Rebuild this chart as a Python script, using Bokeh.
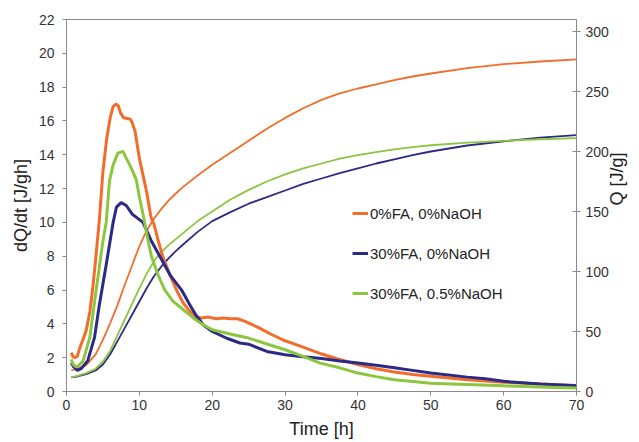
import math
from bokeh.plotting import figure
from bokeh.models import (Range1d, LinearAxis, SingleIntervalTicker, Legend, LegendItem)
from bokeh.embed import file_html
from bokeh.resources import INLINE

# ---------------- data ----------------
series_names = ["0%FA, 0%NaOH", "30%FA, 0%NaOH", "30%FA, 0.5%NaOH"]

# heat flow dQ/dt [J/gh]
t_flow_0fa = [0.65, 0.9, 1.2, 1.5, 1.8, 2.2, 2.7, 3.2, 3.6, 4.0, 4.5, 5.0, 5.5, 6.0, 6.4, 6.8,
              7.1, 7.4, 7.8, 8.3, 8.8, 9.1, 9.4, 10.0, 10.5, 11.0, 11.6, 12.0, 12.6, 13.2,
              14.2, 15.1, 16.0, 16.9, 17.8, 18.5, 19.5, 20.5, 21.5, 22.5, 23.5, 24.5, 25.5,
              26.5, 28.0, 30.0, 32.0, 34.8, 37.0, 40.0, 42.5, 45.0, 47.5, 50.0, 52.5, 55.0,
              57.5, 60.0, 62.5, 65.0, 67.5, 70.0]
flow_0fa = [2.3, 2.05, 2.0, 2.1, 2.55, 3.0, 3.6, 4.7, 6.1, 7.8, 10.1, 13.0, 14.9, 16.2, 16.85, 17.0,
            16.9, 16.5, 16.2, 16.15, 16.1, 15.8, 15.4, 13.8, 12.8, 11.8, 10.3, 9.9, 8.9, 8.0,
            6.9, 6.0, 5.25, 4.75, 4.4, 4.35, 4.4, 4.3, 4.35, 4.3, 4.3, 4.15, 3.95,
            3.75, 3.4, 3.0, 2.7, 2.25, 1.95, 1.6, 1.35, 1.15, 1.0, 0.9, 0.8, 0.7,
            0.62, 0.55, 0.5, 0.45, 0.4, 0.35]

t_flow_30fa = [0.65, 1.0, 1.5, 2.0, 2.9, 3.85, 4.5, 5.45, 6.4, 6.85, 7.5, 8.2, 9.0, 9.6, 10.5,
               11.65, 12.8, 14.2, 15.8, 16.9, 17.8, 18.75, 20.0, 22.0, 23.8, 25.0, 27.5, 30.0,
               32.5, 35.0, 37.5, 40.0, 42.5, 45.0, 47.5, 50.0, 55.0, 57.5, 60.0, 65.0, 70.0]
flow_30fa = [1.7, 1.45, 1.25, 1.35, 1.8, 3.2, 5.1, 7.5, 10.0, 10.9, 11.17, 11.0, 10.5, 10.3, 10.0,
             8.9, 8.0, 6.9, 6.0, 5.15, 4.5, 3.95, 3.55, 3.15, 2.87, 2.8, 2.37, 2.17,
             2.05, 1.95, 1.8, 1.68, 1.55, 1.4, 1.25, 1.09, 0.85, 0.75, 0.6, 0.45, 0.34]

t_flow_naoh = [0.65, 0.9, 1.3, 1.7, 2.25, 3.2, 4.1, 5.0, 5.45, 5.9, 6.4, 7.05, 7.75, 8.2, 8.9,
               9.6, 10.0, 10.5, 11.2, 11.65, 12.56, 13.5, 14.6, 16.0, 17.4, 18.75, 20.0, 22.9,
               25.0, 27.5, 30.0, 32.5, 34.8, 37.5, 40.0, 42.5, 45.0, 50.0, 55.0, 60.0, 65.0, 70.0]
flow_naoh = [1.9, 1.6, 1.45, 1.55, 1.78, 3.2, 6.1, 8.9, 10.0, 12.46, 13.4, 14.1, 14.2, 13.8, 13.2,
             12.5, 11.5, 10.5, 8.9, 8.0, 6.9, 6.0, 5.34, 4.85, 4.35, 3.95, 3.65, 3.36,
             3.16, 2.81, 2.47, 2.08, 1.68, 1.4, 1.09, 0.88, 0.7, 0.49, 0.42, 0.34, 0.27, 0.2]

# cumulative heat Q [J/g]
t_q = [0.65, 1.5, 2.7, 4.0, 5.0, 6.0, 7.0, 8.0, 9.0, 10.0, 11.0, 12.0, 13.0, 14.0, 15.0, 16.0,
       18.0, 20.0, 22.5, 25.0, 27.5, 30.0, 32.5, 35.0, 37.5, 40.0, 42.5, 45.0, 47.5, 50.0,
       55.0, 60.0, 65.0, 70.0]
q_0fa = [17.5, 19.0, 22.0, 31.0, 43.0, 57.0, 72.0, 89.0, 105.0, 121.0, 134.0, 144.0, 152.0, 159.0,
         165.0, 170.5, 180.0, 189.0, 199.0, 209.0, 219.0, 228.0, 236.0, 243.0, 248.5, 252.5,
         256.0, 259.5, 262.5, 265.0, 269.5, 272.8, 275.0, 276.7]
q_30fa = [11.7, 12.5, 14.5, 17.5, 22.5, 31.0, 42.0, 53.0, 64.0, 75.0, 86.0, 96.0, 104.0, 111.0,
          117.0, 122.5, 133.0, 142.0, 149.5, 156.5, 162.0, 167.5, 173.0, 177.5, 182.0, 186.0,
          190.0, 193.5, 197.0, 200.0, 205.0, 208.5, 211.5, 213.7]
q_naoh = [11.7, 13.0, 15.3, 19.0, 25.0, 34.0, 47.0, 60.0, 73.0, 86.0, 98.0, 108.6, 116.0, 122.0,
          127.0, 132.0, 142.0, 150.0, 160.0, 168.0, 175.0, 181.0, 186.0, 190.0, 194.0, 197.0,
          199.5, 201.8, 203.7, 205.2, 207.4, 208.9, 210.2, 211.2]

colors = ["#F26D2B", "#2B2A86", "#8CC63F"]
FONT = "Liberation Sans"

# ---------------- figure ----------------
p = figure(width=639, height=442, output_backend="svg", toolbar_location=None,
           x_range=Range1d(0, 70), y_range=Range1d(0, 22),
           min_border_left=66, min_border_right=63, min_border_top=19, min_border_bottom=51)
p.extra_y_ranges = {"q": Range1d(0, 310)}
p.xgrid.visible = False
p.ygrid.visible = False
p.outline_line_color = "#8a8a8a"
p.outline_line_width = 1
p.background_fill_color = "white"
p.border_fill_color = "white"

def style_axis(ax, interval, label):
    ax.ticker = SingleIntervalTicker(interval=interval, num_minor_ticks=0)
    ax.axis_line_color = "#8a8a8a"
    ax.major_tick_line_color = "#8a8a8a"
    ax.minor_tick_line_color = None
    ax.major_label_text_font = FONT
    ax.major_label_text_font_size = "14px"
    ax.major_label_text_color = "#333333"
    ax.major_tick_in = 0
    ax.major_tick_out = 4
    ax.axis_label = label
    ax.axis_label_text_font = FONT
    ax.axis_label_text_font_size = "18px"
    ax.axis_label_text_font_style = "normal"
    ax.axis_label_text_color = "#222222"

style_axis(p.xaxis[0], 10, "Time [h]")
p.xaxis[0].major_label_standoff = 4
p.xaxis[0].axis_label_standoff = 6
style_axis(p.yaxis[0], 2, "dQ/dt [J/gh]")
p.yaxis[0].major_label_standoff = 8
p.yaxis[0].axis_label_standoff = 5

rax = LinearAxis(y_range_name="q")
style_axis(rax, 50, "Q [J/g]")
rax.major_tick_in = 4
rax.major_label_standoff = 5
rax.axis_label_standoff = 5
rax.axis_label_orientation = math.pi / 2
p.add_layout(rax, "right")

flows = [(t_flow_0fa, flow_0fa), (t_flow_30fa, flow_30fa), (t_flow_naoh, flow_naoh)]
qs = [q_0fa, q_30fa, q_naoh]

for qq, c in zip(qs, colors):
    p.line(t_q, qq, y_range_name="q", line_color=c, line_width=1.8)
flow_renderers = []
for (tt, ff), c in zip(flows, colors):
    r = p.line(tt, ff, line_color=c, line_width=3)
    flow_renderers.append(r)

legend = Legend(items=[LegendItem(label=n, renderers=[r]) for n, r in zip(series_names, flow_renderers)],
                location=(286, 88), orientation="vertical",
                label_text_font=FONT, label_text_font_size="15px", label_text_color="#222222",
                glyph_width=16, glyph_height=20, label_height=20, spacing=20,
                padding=0, margin=0, label_standoff=2,
                border_line_color=None, background_fill_alpha=0)
p.add_layout(legend)

open("out.html", "w").write(file_html(p, INLINE))
